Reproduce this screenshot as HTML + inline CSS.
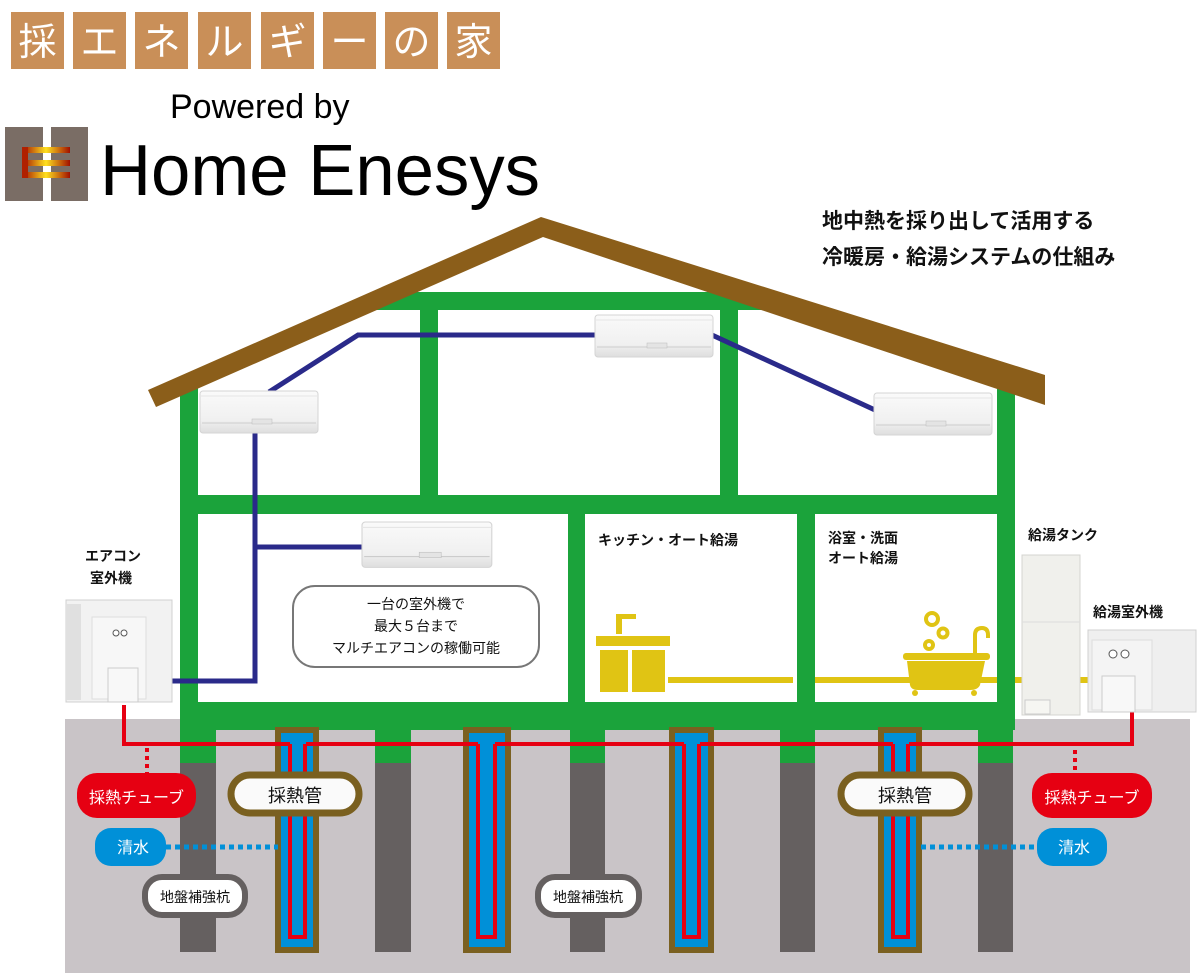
<!DOCTYPE html>
<html><head><meta charset="utf-8"><style>
html,body{margin:0;padding:0;background:#fff;width:1200px;height:973px;overflow:hidden}
svg{display:block}
text{font-family:"Liberation Sans","Noto Sans CJK JP",sans-serif}
</style></head><body>
<svg width="1200" height="973" viewBox="0 0 1200 973" xmlns="http://www.w3.org/2000/svg">
<defs>
<linearGradient id="lg" x1="0" x2="1"><stop offset="0" stop-color="#a01000"/><stop offset="0.5" stop-color="#ffe020"/><stop offset="1" stop-color="#a01000"/></linearGradient>
<linearGradient id="ac" x1="0" y1="0" x2="0" y2="1"><stop offset="0" stop-color="#fafafa"/><stop offset="0.7" stop-color="#f0f0f0"/><stop offset="1" stop-color="#dedede"/></linearGradient>
<g id="acu">
<rect x="0" y="0" width="118" height="42" rx="3" fill="url(#ac)" stroke="#d4d4d4"/>
<line x1="2" y1="32" x2="116" y2="32" stroke="#ccc"/>
<rect x="52" y="28" width="20" height="5" fill="#e4e4e4" stroke="#bbb" stroke-width="0.5"/>
<line x1="0" y1="5" x2="118" y2="5" stroke="#e6e6e6"/>
</g>
</defs>
<!-- title tiles -->
<g fill="#c98f58">
<rect x="11" y="12" width="53" height="57"/><rect x="73" y="12" width="53" height="57"/><rect x="135" y="12" width="53" height="57"/><rect x="198" y="12" width="53" height="57"/><rect x="261" y="12" width="53" height="57"/><rect x="323" y="12" width="53" height="57"/><rect x="385" y="12" width="53" height="57"/><rect x="447" y="12" width="53" height="57"/>
</g>
<g fill="#fff" font-size="38" text-anchor="middle">
<text x="37.5" y="55">採</text><text x="99.5" y="55">エ</text><text x="161.5" y="55">ネ</text><text x="224.5" y="55">ル</text><text x="287.5" y="55">ギ</text><text x="349.5" y="55">ー</text><text x="411.5" y="55">の</text><text x="473.5" y="55">家</text>
</g>
<text x="170" y="118" font-size="34" fill="#000">Powered by</text>
<rect x="5" y="127" width="38" height="74" fill="#7a6d65"/><rect x="51" y="127" width="37" height="74" fill="#7a6d65"/>
<rect x="22" y="147" width="48" height="6" fill="url(#lg)"/><rect x="22" y="160" width="48" height="6" fill="url(#lg)"/><rect x="22" y="172" width="48" height="6" fill="url(#lg)"/>
<rect x="22" y="147" width="6" height="31" fill="#b02000"/>
<text x="100" y="195" font-size="72" fill="#000" textLength="440" lengthAdjust="spacingAndGlyphs">Home Enesys</text>
<text x="822" y="228" font-size="21" font-weight="bold" fill="#111">地中熱を採り出して活用する</text>
<text x="822" y="264" font-size="21" font-weight="bold" fill="#111">冷暖房・給湯システムの仕組み</text>
<!-- ground -->
<rect x="65" y="719" width="1125" height="254" fill="#c9c4c7"/>
<!-- piles -->
<g fill="#656060">
<rect x="180" y="730" width="36" height="222"/><rect x="375" y="730" width="36" height="222"/><rect x="570" y="730" width="35" height="222"/><rect x="780" y="730" width="35" height="222"/><rect x="978" y="730" width="35" height="222"/>
</g>
<!-- green house -->
<g fill="#1ba33b">
<rect x="180" y="380" width="18" height="350"/>
<rect x="997" y="380" width="18" height="350"/>
<rect x="180" y="495" width="835" height="19"/>
<rect x="180" y="702" width="835" height="28"/>
<rect x="568" y="514" width="17" height="190"/>
<rect x="797" y="514" width="18" height="190"/>
<polygon points="380,292 760,292 790,310 360,310"/>
<rect x="420" y="292" width="18" height="205"/>
<rect x="720" y="292" width="18" height="205"/>
<rect x="180" y="728" width="36" height="35"/><rect x="375" y="728" width="36" height="35"/><rect x="570" y="728" width="35" height="35"/><rect x="780" y="728" width="35" height="35"/><rect x="978" y="728" width="35" height="35"/>
</g>
<!-- roof -->
<polygon points="148,390 541,217 1045,375 1045,405 543,237 156,407" fill="#8b5e1a"/>
<!-- heat tubes -->
<g>
<g transform="translate(275,727)"><rect width="44" height="226" fill="#7a6020"/><rect x="6" y="6" width="32" height="214" fill="#0090d8"/><path d="M15,17 V210 H30 V17" fill="none" stroke="#e60012" stroke-width="4"/></g>
<g transform="translate(463,727)"><rect width="48" height="226" fill="#7a6020"/><rect x="6" y="6" width="36" height="214" fill="#0090d8"/><path d="M15,17 V210 H32 V17" fill="none" stroke="#e60012" stroke-width="4"/></g>
<g transform="translate(669,727)"><rect width="45" height="226" fill="#7a6020"/><rect x="6" y="6" width="33" height="214" fill="#0090d8"/><path d="M15,17 V210 H30 V17" fill="none" stroke="#e60012" stroke-width="4"/></g>
<g transform="translate(878,727)"><rect width="44" height="226" fill="#7a6020"/><rect x="6" y="6" width="32" height="214" fill="#0090d8"/><path d="M15,17 V210 H30 V17" fill="none" stroke="#e60012" stroke-width="4"/></g>
</g>
<!-- red header -->
<path d="M124,705 V744 H290 M306,744 H478 M495,744 H684 M700,744 H893 M909,744 H1132 V712" fill="none" stroke="#e60012" stroke-width="4"/>
<line x1="147" y1="748" x2="147" y2="773" stroke="#e60012" stroke-width="4" stroke-dasharray="4,4"/>
<line x1="1075" y1="750" x2="1075" y2="773" stroke="#e60012" stroke-width="4" stroke-dasharray="4,4"/>
<line x1="166" y1="847" x2="278" y2="847" stroke="#0090d8" stroke-width="5" stroke-dasharray="5,4"/>
<line x1="921" y1="847" x2="1037" y2="847" stroke="#0090d8" stroke-width="5" stroke-dasharray="5,4"/>
<!-- labels ground -->
<rect x="77" y="773" width="119" height="45" rx="20" fill="#e60012"/>
<text x="136.5" y="803" font-size="16" fill="#fff" text-anchor="middle">採熱チューブ</text>
<rect x="1032" y="773" width="120" height="45" rx="20" fill="#e60012"/>
<text x="1092" y="803" font-size="16" fill="#fff" text-anchor="middle">採熱チューブ</text>
<rect x="95" y="828" width="71" height="38" rx="16" fill="#0090d8"/>
<text x="133" y="853" font-size="16" fill="#fff" text-anchor="middle">清水</text>
<rect x="1037" y="828" width="70" height="38" rx="16" fill="#0090d8"/>
<text x="1074" y="853" font-size="16" fill="#fff" text-anchor="middle">清水</text>
<rect x="231" y="775" width="128" height="38" rx="19" fill="#fafafa" stroke="#7a6020" stroke-width="7"/>
<text x="295" y="802" font-size="18" fill="#111" text-anchor="middle">採熱管</text>
<rect x="841" y="775" width="128" height="38" rx="19" fill="#fafafa" stroke="#7a6020" stroke-width="7"/>
<text x="905" y="802" font-size="18" fill="#111" text-anchor="middle">採熱管</text>
<rect x="145" y="877" width="100" height="38" rx="17" fill="#fff" stroke="#656060" stroke-width="6"/>
<text x="195" y="902" font-size="14" fill="#111" text-anchor="middle">地盤補強杭</text>
<rect x="538" y="877" width="101" height="38" rx="17" fill="#fff" stroke="#656060" stroke-width="6"/>
<text x="588" y="902" font-size="14" fill="#111" text-anchor="middle">地盤補強杭</text>
<!-- blue refrigerant lines -->
<path d="M269,392 L358,335 H595 M712,335 L875,410" fill="none" stroke="#2a2a8a" stroke-width="5"/>
<path d="M255,433 V681 H170 M255,547 H362" fill="none" stroke="#2a2a8a" stroke-width="5"/>
<!-- AC units -->
<use href="#acu" x="200" y="391"/>
<use href="#acu" x="595" y="315"/>
<use href="#acu" x="874" y="393"/>
<use href="#acu" transform="translate(362,522) scale(1.1,1.08)"/>
<!-- info box -->
<rect x="293" y="586" width="246" height="81" rx="22" fill="#fff" stroke="#777" stroke-width="2"/>
<g font-size="14" fill="#111" text-anchor="middle">
<text x="416" y="609">一台の室外機で</text>
<text x="416" y="631">最大５台まで</text>
<text x="416" y="653">マルチエアコンの稼働可能</text>
</g>
<!-- room labels -->
<g font-size="14" font-weight="bold" fill="#111">
<text x="598" y="545">キッチン・オート給湯</text>
<text x="828" y="543">浴室・洗面</text>
<text x="828" y="563">オート給湯</text>
<text x="1028" y="540">給湯タンク</text>
<text x="1093" y="617">給湯室外機</text>
<text x="85" y="561">エアコン</text>
<text x="90" y="583">室外機</text>
</g>
<!-- yellow -->
<g fill="#e0c414">
<rect x="668" y="677" width="125" height="6"/><rect x="815" y="677" width="182" height="6"/><rect x="1015" y="677" width="75" height="6"/>
<rect x="596" y="636" width="74" height="10"/>
<rect x="600" y="650" width="28" height="42"/><rect x="632" y="650" width="33" height="42"/>
<rect x="616" y="616" width="6" height="18"/><rect x="616" y="614" width="20" height="5"/>
<rect x="903" y="653" width="87" height="7" rx="3"/>
<path d="M907,661 H985 L980,685 Q978,690 970,690 H918 Q911,690 910,685 Z"/>
<circle cx="915" cy="693" r="3"/><circle cx="974" cy="693" r="3"/>
<path d="M975,653 V635 Q975,628 982,628 Q988,628 988,635 V638" fill="none" stroke="#e0c414" stroke-width="4"/>
</g>
<g fill="none" stroke="#e0c414" stroke-width="4">
<circle cx="932" cy="619" r="6"/><circle cx="943" cy="633" r="4.5"/><circle cx="929" cy="645" r="4"/>
</g>
<!-- left outdoor unit -->
<g>
<rect x="66" y="600" width="106" height="102" fill="#f2f2f2" stroke="#d0d0d0"/>
<rect x="66" y="604" width="15" height="96" fill="#e0e0e0"/>
<rect x="92" y="617" width="54" height="82" fill="#f7f7f7" stroke="#ddd"/>
<circle cx="116" cy="633" r="3" fill="#fff" stroke="#555"/><circle cx="124" cy="633" r="3" fill="#fff" stroke="#555"/>
<rect x="108" y="668" width="30" height="34" fill="#f8f8f8" stroke="#ccc"/>
</g>
<!-- tank -->
<rect x="1022" y="555" width="58" height="160" fill="#f0f0ec" stroke="#d4d4d0"/>
<line x1="1022" y1="622" x2="1080" y2="622" stroke="#ddd"/>
<rect x="1025" y="700" width="25" height="14" fill="#f6f6f2" stroke="#ccc"/>
<!-- right outdoor unit -->
<g>
<rect x="1088" y="630" width="108" height="82" fill="#efefef" stroke="#d0d0d0"/>
<rect x="1092" y="640" width="60" height="70" fill="#f4f4f4" stroke="#ddd"/>
<circle cx="1113" cy="654" r="4" fill="#fff" stroke="#555"/><circle cx="1125" cy="654" r="4" fill="#fff" stroke="#555"/>
<rect x="1102" y="676" width="33" height="36" fill="#f8f8f8" stroke="#ccc"/>
</g>
</svg>
</body></html>
